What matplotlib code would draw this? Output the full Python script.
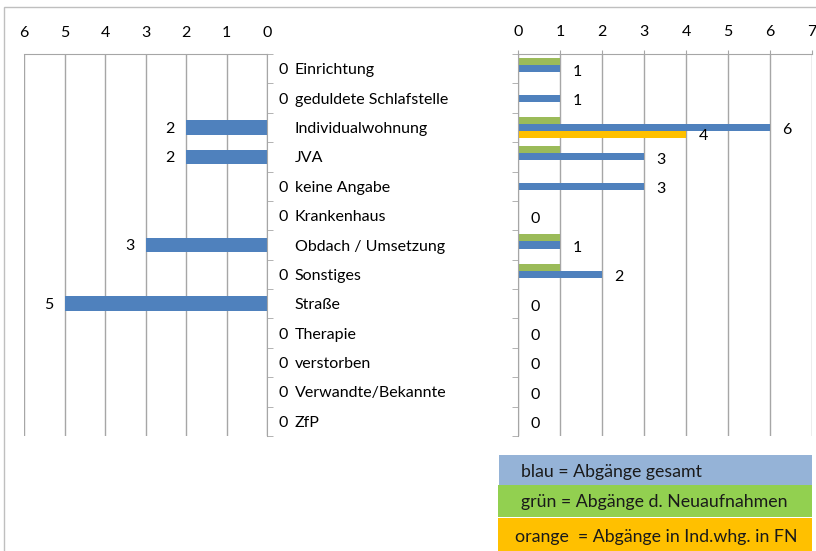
import matplotlib.pyplot as plt
import numpy as np
from matplotlib.patches import Rectangle

plt.rcParams['font.family'] = ['Lato', 'DejaVu Sans']

categories = ["Einrichtung", "geduldete Schlafstelle", "Individualwohnung", "JVA",
              "keine Angabe", "Krankenhaus", "Obdach / Umsetzung", "Sonstiges",
              "Straße", "Therapie", "verstorben", "Verwandte/Bekannte", "ZfP"]
links = [0, 0, 2, 2, 0, 0, 3, 0, 5, 0, 0, 0, 0]
blau = [1, 1, 6, 3, 3, 0, 1, 2, 0, 0, 0, 0, 0]
gruen = [1, 0, 1, 1, 0, 0, 1, 1, 0, 0, 0, 0, 0]
orange = [0, 0, 4, 0, 0, 0, 0, 0, 0, 0, 0, 0, 0]
legend_texts = ["blau = Abgänge gesamt", "grün = Abgänge d. Neuaufnahmen",
                "orange  = Abgänge in Ind.whg. in FN"]

c_blue = "#4F81BD"
c_green = "#9BBB59"
c_orange = "#FFC000"
grid_c = "#A6A6A6"
fs = 11.5

fig = plt.figure(figsize=(8.16, 5.51), dpi=100)
n = len(categories)
y = np.arange(n)

# frame of the picture
fig.add_artist(Rectangle((4 / 816, -0.05), 1.0, (551 - 7) / 551 + 0.05,
                         transform=fig.transFigure, fill=False,
                         edgecolor="#BFBFBF", lw=1))

bottom = (551 - 436) / 551
height = 382 / 551

# left chart
ax1 = fig.add_axes([24 / 816, bottom, 243 / 816, height])
ax1.barh(y, links, height=0.5, color=c_blue)
ax1.set_xlim(6, 0)
ax1.set_ylim(n - 0.5, -0.5)
ax1.xaxis.tick_top()
ax1.set_xticks(range(0, 7))
ax1.tick_params(axis="x", length=0, pad=10, labelsize=fs, colors="#000000")
ax1.grid(axis="x", color=grid_c, lw=1)
ax1.set_axisbelow(True)
ax1.yaxis.tick_right()
ax1.set_yticks(y)
ax1.set_yticklabels(categories)
ax1.tick_params(axis="y", which="major", length=0, pad=20, labelsize=fs)
ax1.set_yticks(np.arange(-0.5, n, 1), minor=True)
ax1.tick_params(axis="y", which="minor", length=4, direction="out", color=grid_c)
for s in ["left", "bottom"]:
    ax1.spines[s].set_visible(False)
for s in ["top", "right"]:
    ax1.spines[s].set_color(grid_c)
for i, v in enumerate(links):
    if v == 0:
        ax1.annotate("0", (0, i), xytext=(8, 0), textcoords="offset points",
                     ha="left", va="center_baseline", fontsize=fs)
    else:
        ax1.annotate(str(v), (v, i), xytext=(-8, 0), textcoords="offset points",
                     ha="right", va="center_baseline", fontsize=fs)

# right chart
ax2 = fig.add_axes([518 / 816, bottom, 294 / 816, height])
bh = 0.24
ax2.barh(y - bh, gruen, height=bh, color=c_green)
ax2.barh(y, blau, height=bh, color=c_blue)
ax2.barh(y + bh, orange, height=bh, color=c_orange)
ax2.set_xlim(0, 7)
ax2.set_ylim(n - 0.5, -0.5)
ax2.xaxis.tick_top()
ax2.set_xticks(range(0, 8))
ax2.tick_params(axis="x", length=3, color=grid_c, pad=8, labelsize=fs)
ax2.grid(axis="x", color=grid_c, lw=1)
ax2.set_axisbelow(True)
ax2.set_yticks([])
ax2.set_yticks(np.arange(-0.5, n, 1), minor=True)
ax2.tick_params(axis="y", which="minor", length=4, direction="out", color=grid_c)
for s in ["right", "bottom"]:
    ax2.spines[s].set_visible(False)
for s in ["top", "left"]:
    ax2.spines[s].set_color(grid_c)
for i, v in enumerate(blau):
    ax2.annotate(str(v), (v, i), xytext=(9, -1), textcoords="offset points",
                 ha="left", va="center_baseline", fontsize=fs)
for i, v in enumerate(orange):
    if v > 0:
        ax2.annotate(str(v), (v, i + bh), xytext=(9, 0), textcoords="offset points",
                     ha="left", va="center_baseline", fontsize=fs)

# legend boxes
boxes = [(499, 455, 485, "#95B3D7", 521), (498, 485, 517, "#92D050", 521),
         (498, 518, 553, c_orange, 515)]
for (x0, y0, y1, col, tx), txt in zip(boxes, legend_texts):
    fig.add_artist(Rectangle((x0 / 816, (551 - y1) / 551), (812 - x0) / 816,
                             (y1 - y0) / 551, transform=fig.transFigure,
                             facecolor=col, edgecolor="none"))
    fig.text(tx / 816, (551 - (y0 + y1) / 2) / 551, txt, ha="left",
             va="center_baseline", fontsize=12.8, color="#1a1a1a")

fig.savefig("out.png", dpi=100)
